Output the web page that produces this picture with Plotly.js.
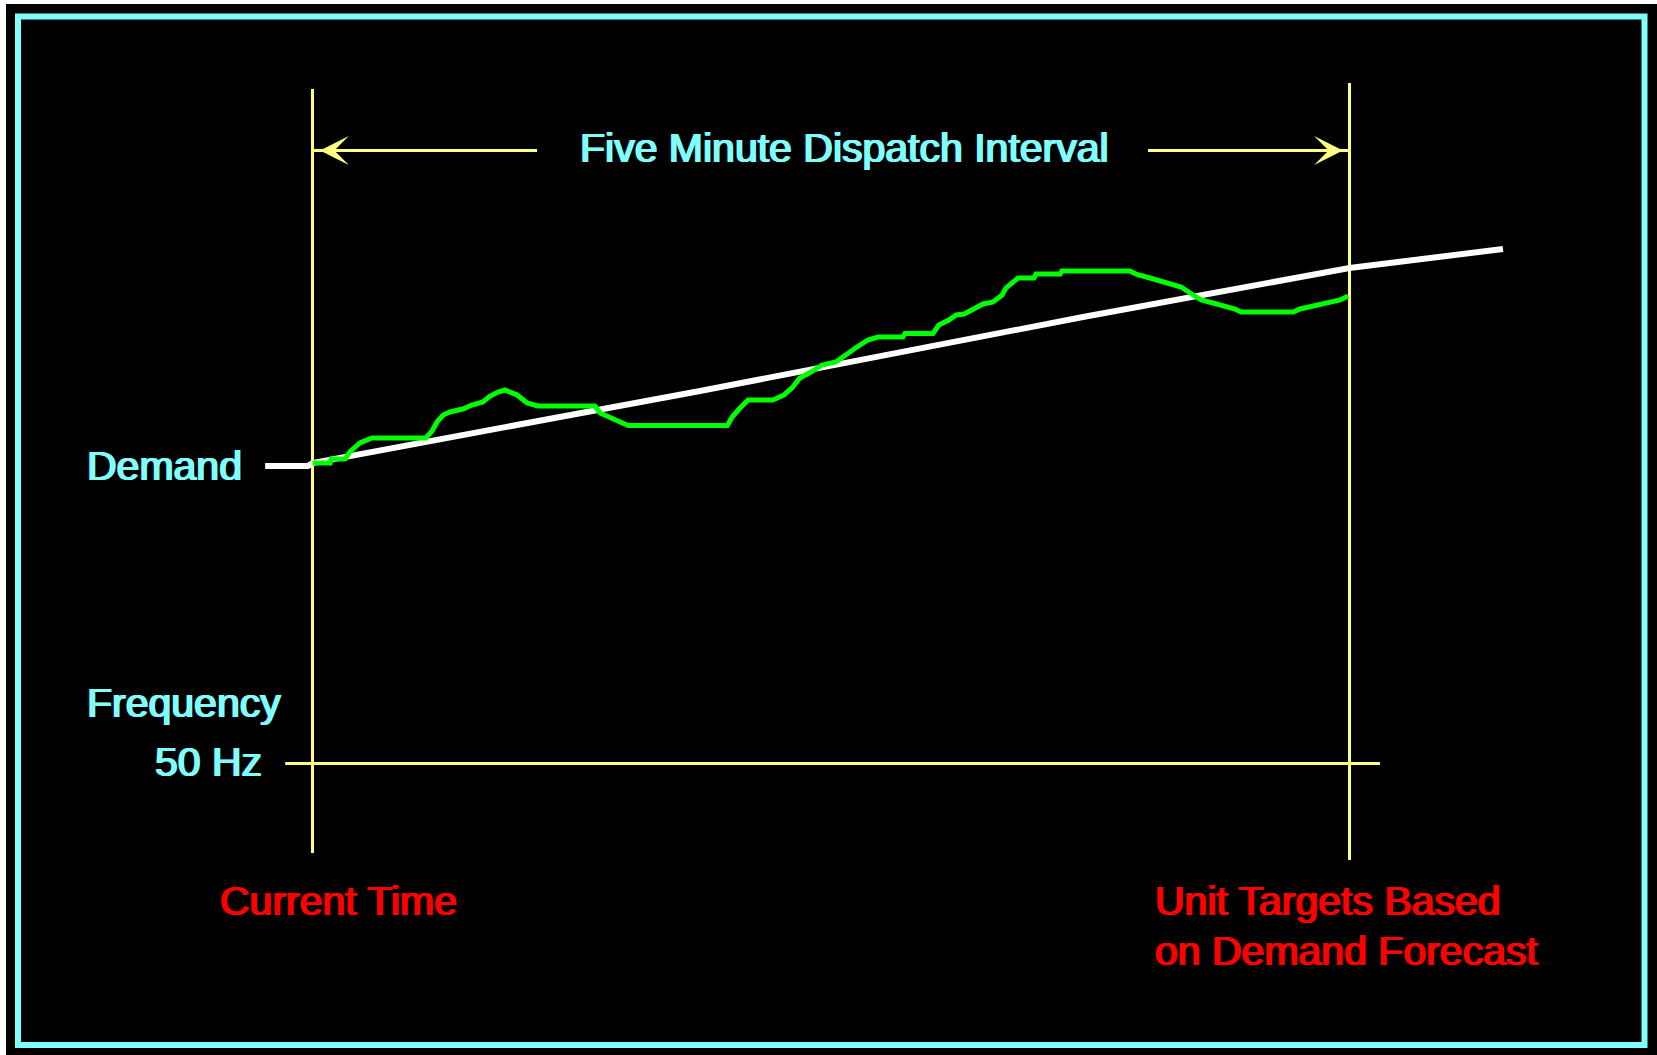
<!DOCTYPE html>
<html>
<head>
<meta charset="utf-8">
<script src="https://cdn.plot.ly/plotly-3.0.1.min.js"></script>
<style>
  html, body { margin: 0; padding: 0; background: #000; overflow: hidden; }
  #chart { width: 1657px; height: 1055px; }
</style>
</head>
<body>
<div id="chart"></div>
<script>
// ---- Data ----
// time in seconds from "Current Time"; demand in MW (arbitrary schematic units)
const intervalStartSec = 0;
const intervalEndSec = 300;

// Actual demand (green)
const actualSec = [0, 5.1, 5.4, 9.4, 10.8, 13.7, 17.2, 32.8, 34.6, 36.0, 37.8, 39.8, 43.5, 46.1, 49.3, 51.4, 53.7, 55.7,
  59.2, 62.1, 65.2, 81.7, 83.2, 88.1, 91.3, 120.0, 121.4, 123.7, 126.0, 133.2, 136.4, 138.7, 141.0, 144.2, 147.4,
  151.4, 154.1, 157.5, 160.7, 163.6, 170.8, 171.4, 179.5, 181.2, 184.1, 186.2, 188.5, 190.8, 194.0, 196.9, 199.5,
  200.6, 202.4, 204.1, 208.7, 209.3, 216.3, 216.8, 236.5, 238.5, 242.3, 245.7, 248.7, 251.3, 253.9, 257.1, 260.5,
  263.4, 266.9, 268.6, 283.7, 285.7, 289.2, 293.2, 297.3, 299.6];
const actualMW = [1000, 1000, 1002, 1002, 1005.5, 1010, 1012.5, 1012.5, 1016, 1020.5, 1024, 1025.5, 1027, 1029, 1030.5, 1033.5, 1035.5, 1036.5,
  1034, 1030, 1028.5, 1028.5, 1025, 1021.5, 1018.75, 1018.75, 1023, 1027.5, 1031.5, 1031.5, 1034, 1037.5, 1042.5, 1045.5, 1049,
  1050.5, 1054, 1058, 1061.5, 1063, 1063, 1064.75, 1064.75, 1069, 1071.5, 1074, 1074.5, 1076.5, 1079.5, 1080.5, 1084,
  1087.5, 1090, 1092.5, 1092.5, 1094.5, 1094.5, 1096, 1096, 1094.25, 1092.5, 1091, 1089.5, 1088, 1085, 1081.5, 1080,
  1078.75, 1077, 1075.5, 1075.5, 1077, 1078.5, 1080, 1081.5, 1083.5];

// Demand forecast (white)
const forecastSec = [-13.7, -1.3, 0, 112.1, 222.9, 300, 344.4];
const forecastMW = [998.5, 998.5, 1000, 1036, 1073, 1097.5, 1107];

// Frequency reference (50 Hz)
const freqSec = [-7.9, 308.8];
const freqHz = [50, 50];

// Labels
const titleText = 'Five Minute Dispatch Interval';
const demandLabel = 'Demand';
const freqLabel = 'Frequency';
const freqValueLabel = '50 Hz';
const currentLabel = 'Current Time';
const targetLabel1 = 'Unit Targets Based';
const targetLabel2 = 'on Demand Forecast';

// ---- Layout helpers ----
const W = 1657, H = 1055;
const px = v => v / W;          // paper x from pixel
const py = v => 1 - v / H;      // paper y from pixel
const CYAN = '#80FFFF', YELLOW = '#FFFF80', RED = '#FF0000', GREEN = '#00FF00', WHITE = '#FFFFFF';
const FONT = '"Liberation Sans", Arial, sans-serif';
const FS = 41;
const arrowMW = 1156.25;

const traces = [
  { x: freqSec, y: freqHz, yaxis: 'y2', mode: 'lines', line: { color: YELLOW, width: 3 }, hoverinfo: 'skip' },
  { x: forecastSec, y: forecastMW, mode: 'lines', line: { color: WHITE, width: 6 }, hoverinfo: 'skip' },
  { x: actualSec, y: actualMW, mode: 'lines', line: { color: GREEN, width: 5 }, hoverinfo: 'skip' }
];

function label(text, x, y, color, xanchor) {
  return { text, xref: 'paper', yref: 'paper', x: px(x), y: py(y), xanchor: xanchor || 'left', yanchor: 'middle',
    showarrow: false,
    font: { family: FONT, size: FS, color, shadow: '1px 0px 0px ' + color + ', 2px 0px 0px ' + color } };
}

const layout = {
  width: W, height: H, autosize: false,
  margin: { l: 0, r: 0, t: 0, b: 0, pad: 0 },
  paper_bgcolor: '#000000', plot_bgcolor: '#000000',
  showlegend: false,
  xaxis: { range: [-90.405, 388.958], visible: false, fixedrange: true },
  yaxis: { range: [704, 1231.5], visible: false, fixedrange: true },
  yaxis2: { range: [49.7085, 50.7635], visible: false, fixedrange: true, overlaying: 'y' },
  shapes: [
    // white edges
    { type: 'rect', xref: 'paper', yref: 'paper', x0: 0, x1: px(6), y0: 0, y1: 1, fillcolor: '#FFFFFF', line: { width: 0 }, layer: 'below' },
    { type: 'rect', xref: 'paper', yref: 'paper', x0: 0, x1: 1, y0: py(4), y1: 1, fillcolor: '#FFFFFF', line: { width: 0 }, layer: 'below' },
    // cyan frame
    { type: 'rect', xref: 'paper', yref: 'paper', x0: px(18), x1: px(1644.5), y0: py(1045), y1: py(16.5), line: { color: CYAN, width: 6 } },
    // interval boundaries
    { type: 'line', xref: 'x', yref: 'y', x0: intervalStartSec, x1: intervalStartSec, y0: 805, y1: 1187, line: { color: YELLOW, width: 3 }, layer: 'below' },
    { type: 'line', xref: 'x', yref: 'y', x0: intervalEndSec, x1: intervalEndSec, y0: 801.5, y1: 1190, line: { color: YELLOW, width: 3 }, layer: 'below' },
    // dimension lines
    { type: 'line', xref: 'x', yref: 'y', x0: intervalStartSec, x1: 64.95, y0: arrowMW, y1: arrowMW, line: { color: YELLOW, width: 3 } },
    { type: 'line', xref: 'x', yref: 'y', x0: 241.7, x1: intervalEndSec, y0: arrowMW, y1: arrowMW, line: { color: YELLOW, width: 3 } }
  ],
  annotations: [
    { text: '', x: 2.17, y: arrowMW, ax: 30, ay: arrowMW, xref: 'x', yref: 'y', axref: 'x', ayref: 'y',
      showarrow: true, arrowhead: 3, arrowsize: 1.6, arrowwidth: 3, arrowcolor: YELLOW },
    { text: '', x: 298.1, y: arrowMW, ax: 270, ay: arrowMW, xref: 'x', yref: 'y', axref: 'x', ayref: 'y',
      showarrow: true, arrowhead: 3, arrowsize: 1.6, arrowwidth: 3, arrowcolor: YELLOW },
    label(titleText, 577, 148, CYAN),
    label(demandLabel, 84, 466.5, CYAN),
    label(freqLabel, 84, 702.5, CYAN),
    label(freqValueLabel, 263, 762, CYAN, 'right'),
    label(currentLabel, 217, 900.5, RED),
    label(targetLabel1, 1152, 900.5, RED),
    label(targetLabel2, 1152, 950.5, RED)
  ]
};

Plotly.newPlot('chart', traces, layout, { displayModeBar: false, staticPlot: true });
</script>
</body>
</html>
